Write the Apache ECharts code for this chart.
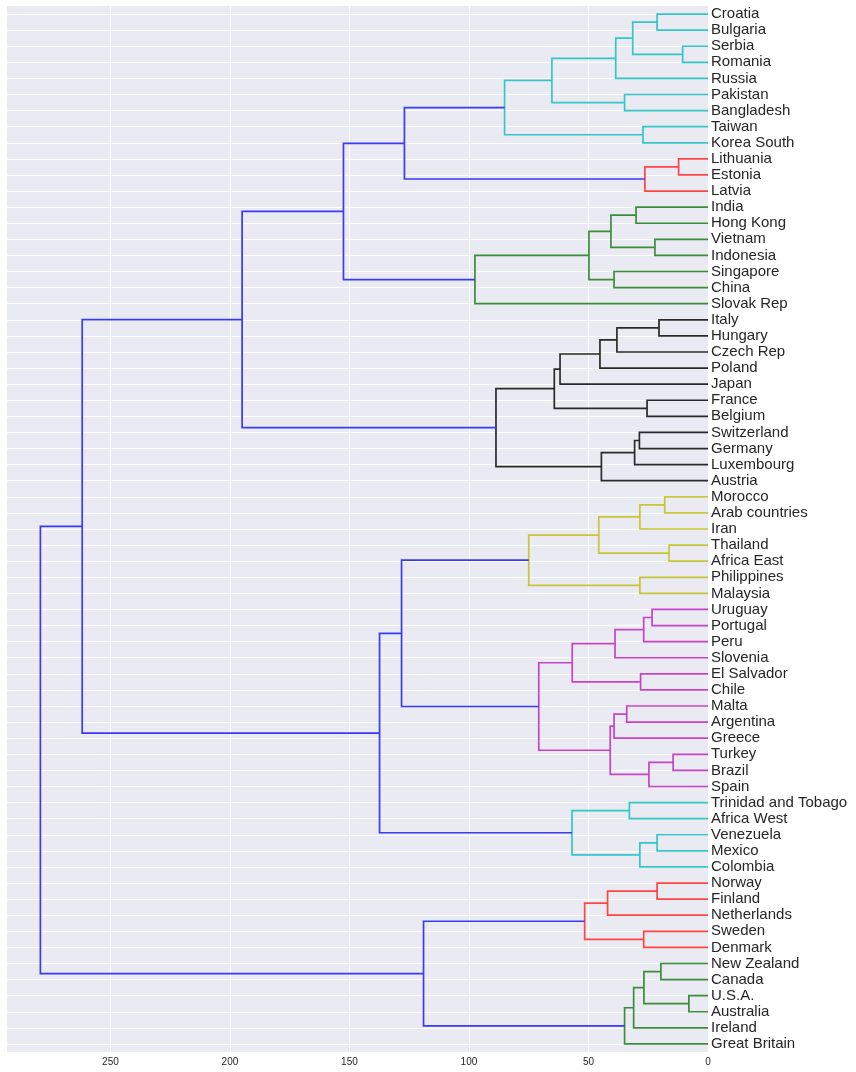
<!DOCTYPE html>
<html>
<head>
<meta charset="utf-8">
<script src="https://cdn.jsdelivr.net/npm/echarts@6/dist/echarts.min.js"></script>
<style>
  html, body { margin: 0; padding: 0; background: #fff; }
  #main { width: 856px; height: 1072px; }
</style>
</head>
<body>
<div id="main"></div>
<script>
// leaves, top to bottom
const leaves = [
  'Croatia', 'Bulgaria', 'Serbia', 'Romania', 'Russia', 'Pakistan', 'Bangladesh',
  'Taiwan', 'Korea South', 'Lithuania', 'Estonia', 'Latvia', 'India', 'Hong Kong',
  'Vietnam', 'Indonesia', 'Singapore', 'China', 'Slovak Rep', 'Italy', 'Hungary',
  'Czech Rep', 'Poland', 'Japan', 'France', 'Belgium', 'Switzerland', 'Germany',
  'Luxembourg', 'Austria', 'Morocco', 'Arab countries', 'Iran', 'Thailand',
  'Africa East', 'Philippines', 'Malaysia', 'Uruguay', 'Portugal', 'Peru',
  'Slovenia', 'El Salvador', 'Chile', 'Malta', 'Argentina', 'Greece', 'Turkey',
  'Brazil', 'Spain', 'Trinidad and Tobago', 'Africa West', 'Venezuela', 'Mexico',
  'Colombia', 'Norway', 'Finland', 'Netherlands', 'Sweden', 'Denmark',
  'New Zealand', 'Canada', 'U.S.A.', 'Australia', 'Ireland', 'Great Britain'
]

// merges (scipy style): [left, right, distance]; ids >= 65 are earlier merges
const links = [
  [0, 1, 21.3], [2, 3, 10.6], [65, 66, 31.5], [67, 4, 38.6], [5, 6, 34.9],
  [68, 69, 65.3], [7, 8, 27.2], [70, 71, 85.1], [9, 10, 12.3], [73, 11, 26.4],
  [72, 74, 127.0], [12, 13, 30.1], [14, 15, 22.2], [76, 77, 40.6], [16, 17, 39.3],
  [78, 79, 49.8], [80, 18, 97.5], [75, 81, 152.5], [19, 20, 20.5], [83, 21, 38.1],
  [84, 22, 45.2], [85, 23, 61.9], [24, 25, 25.5], [86, 87, 64.3], [26, 27, 28.7],
  [89, 28, 30.7], [90, 29, 44.6], [88, 91, 88.7], [82, 92, 194.9], [30, 31, 18.1],
  [94, 32, 28.5], [33, 34, 16.3], [95, 96, 45.7], [35, 36, 28.5], [97, 98, 75.0],
  [37, 38, 23.4], [100, 39, 26.9], [101, 40, 38.9], [41, 42, 28.2], [102, 103, 56.8],
  [43, 44, 34.0], [105, 45, 39.3], [46, 47, 14.6], [107, 48, 24.7], [106, 108, 40.9],
  [104, 109, 70.8], [99, 110, 128.2], [49, 50, 32.9], [51, 52, 21.3], [113, 53, 28.5],
  [112, 114, 56.9], [111, 115, 137.4], [93, 116, 261.8], [54, 55, 21.3], [118, 56, 42.0],
  [57, 58, 26.9], [119, 120, 51.6], [59, 60, 19.7], [61, 62, 8.0], [122, 123, 26.8],
  [124, 63, 31.1], [125, 64, 34.9], [121, 126, 119.0], [117, 127, 279.3]
]

// colour code of each merge
const linkColors = [
  'c', 'c', 'c', 'c', 'c', 'c', 'c', 'c', 'r', 'r',
  'b', 'g', 'g', 'g', 'g', 'g', 'g', 'b', 'k', 'k',
  'k', 'k', 'k', 'k', 'k', 'k', 'k', 'k', 'b', 'y',
  'y', 'y', 'y', 'y', 'y', 'm', 'm', 'm', 'm', 'm',
  'm', 'm', 'm', 'm', 'm', 'm', 'b', 'c', 'c', 'c',
  'c', 'b', 'b', 'r', 'r', 'r', 'r', 'g', 'g', 'g',
  'g', 'g', 'b', 'b'
]

const palette = {
  b: '#3a3af6', c: '#34c6c6', r: '#ff4545', g: '#3b8d3b',
  k: '#2a2a2a', y: '#c6c636', m: '#c643c6'
}

// positions of nodes: leaves at 5, 15, 25 ... like scipy
const n = leaves.length
const nodeY = leaves.map((_, i) => 5 + 10 * i)
const nodeH = leaves.map(() => 0)
const segs = []
links.forEach((l, i) => {
  const [a, b, h] = l
  nodeY.push((nodeY[a] + nodeY[b]) / 2)
  nodeH.push(h)
  segs.push({
    coords: [[nodeH[a], nodeY[a]], [h, nodeY[a]], [h, nodeY[b]], [nodeH[b], nodeY[b]]],
    lineStyle: { color: palette[linkColors[i]] }
  })
})
const maxH = Math.max(...links.map(l => l[2]))

let chart = echarts.init(document.querySelector('#main'))

let option = {
  animation: false,
  backgroundColor: '#ffffff',
  grid: {
    left: 7, top: 6, right: 148, bottom: 20,
    show: true,
    backgroundColor: '#eaeaf2',
    borderWidth: 0
  },
  xAxis: {
    type: 'value',
    inverse: true,
    min: 0,
    max: maxH * 1.05,
    interval: 50,
    axisLine: { show: false },
    axisTick: { show: false },
    axisLabel: {
      showMaxLabel: false,
      fontSize: 10,
      color: '#262626',
      fontFamily: 'Liberation Sans, Arial, sans-serif',
      margin: 5
    },
    splitLine: {
      showMaxLine: false,
      lineStyle: { color: '#ffffff', width: 1 }
    }
  },
  yAxis: [
    {
      type: 'value',
      inverse: true,
      min: 0,
      max: 10 * n,
      show: false,
      splitLine: { show: false }
    },
    {
      type: 'category',
      data: leaves,
      inverse: true,
      position: 'right',
      boundaryGap: true,
      axisLine: { show: false },
      axisTick: { show: false },
      axisLabel: {
        interval: 0,
        fontSize: 15,
        color: '#262626',
        fontFamily: 'Liberation Sans, Arial, sans-serif',
        margin: 3,
        padding: [4, 0, 0, 0]
      },
      splitLine: {
        show: true,
        alignWithLabel: true,
        interval: 0,
        lineStyle: { color: '#ffffff', width: 1 }
      }
    }
  ],
  series: [
    {
      type: 'lines',
      coordinateSystem: 'cartesian2d',
      xAxisIndex: 0,
      yAxisIndex: 0,
      polyline: true,
      silent: true,
      lineStyle: { width: 1.7, opacity: 1 },
      data: segs
    }
  ]
}

chart.setOption(option)
</script>
</body>
</html>
